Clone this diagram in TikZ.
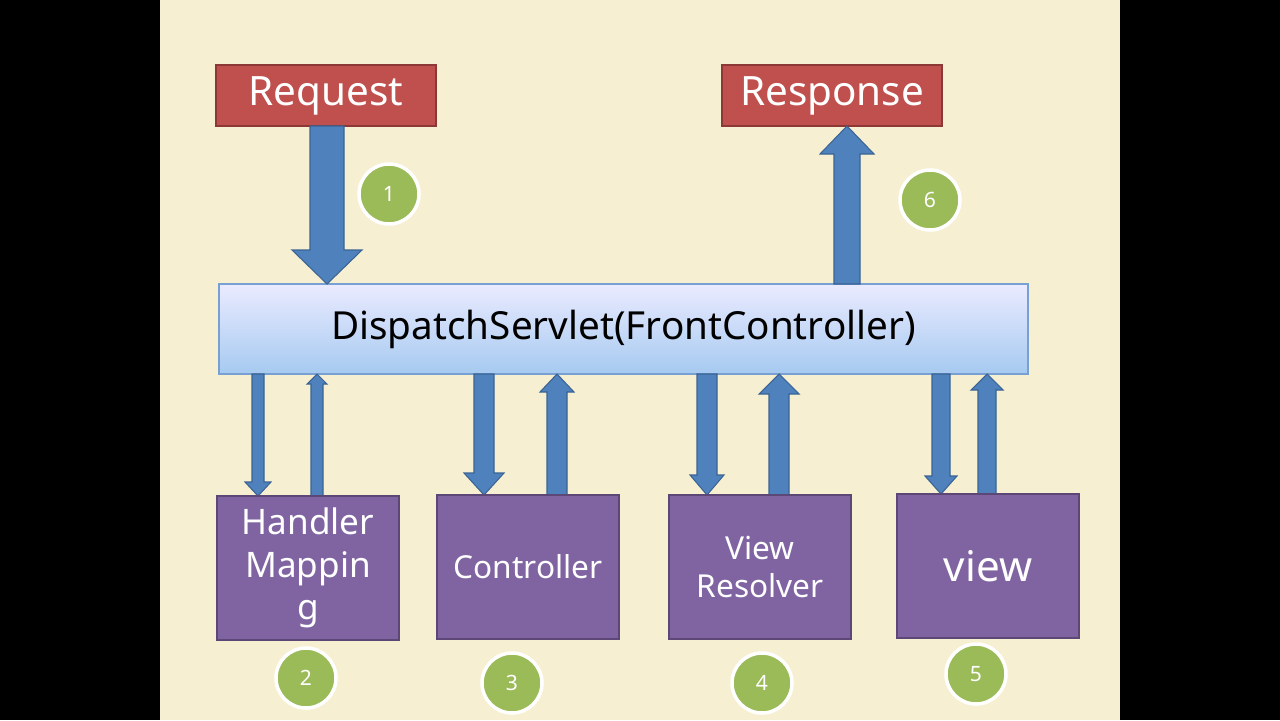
\documentclass[tikz,border=0pt]{standalone}
\usepackage{fontspec}
\setmainfont{Noto Sans}
\definecolor{bg}{HTML}{F7EFD2}
\definecolor{redb}{HTML}{C0504D}
\definecolor{redd}{HTML}{8C3836}
\definecolor{blu}{HTML}{4F81BD}
\definecolor{blud}{HTML}{3A6494}
\definecolor{purp}{HTML}{8064A2}
\definecolor{purpd}{HTML}{5C4776}
\definecolor{grn}{HTML}{9BBB59}
\tikzset{
  redbox/.style={draw=redd,fill=redb,line width=1pt,text=white,font=\fontsize{23}{26}\selectfont},
  purbox/.style={draw=purpd,fill=purp,line width=1pt,text=white,align=center},
  num/.style={circle,fill=grn,draw=white,line width=2pt,minimum size=1.2cm,text=white,font=\fontsize{12}{14}\selectfont},
  arr/.style={fill=blu,draw=blud,line width=0.6pt}
}
% x, ybase, ytip, half shaft, half head, head length
\newcommand\varr[6]{\draw[arr] ({#1-#4},#2) -- ({#1-#4},{#3-#6*sign(#3-#2)}) -- ({#1-#5},{#3-#6*sign(#3-#2)}) -- (#1,#3) -- ({#1+#5},{#3-#6*sign(#3-#2)}) -- ({#1+#4},{#3-#6*sign(#3-#2)}) -- ({#1+#4},#2) -- cycle;}
\begin{document}
\begin{tikzpicture}[x=0.02cm,y=-0.02cm]
\fill[black] (0,0) rectangle (1280,720);
\fill[bg] (160,0) rectangle (1120,720);
\useasboundingbox (0,0) rectangle (1280,720);
\node[redbox,minimum width=4.4cm,minimum height=1.22cm] (req) at (326,95.5) {Request};
\node[redbox,minimum width=4.4cm,minimum height=1.22cm] (resp) at (832,95.5) {Response};
\shade[top color=blue!8,bottom color={rgb,255:red,166;green,202;blue,240}] (219,284) rectangle (1028,374);
\draw[draw={rgb,255:red,120;green,160;blue,210},line width=0.8pt] (219,284) rectangle (1028,374);
\node[font=\fontsize{22}{26}\selectfont] (ds) at (623.5,329) {DispatchServlet(FrontController)};
\varr{327}{126}{284}{17}{35}{34}
\varr{847}{284}{126}{13}{27}{28}
\varr{258}{374}{496}{6}{13}{14}
\varr{317}{496}{374}{6}{10}{10}
\varr{484}{374}{495}{10}{20}{22}
\varr{557}{495}{374}{10}{17}{18}
\varr{707}{374}{495}{10}{17}{20}
\varr{779}{495}{374}{10}{20}{20}
\varr{941}{374}{494}{9}{16}{18}
\varr{987}{494}{374}{9}{16}{16}
\node[purbox,minimum width=3.64cm,minimum height=2.88cm,font=\fontsize{20}{24}\selectfont] (hm) at (308,568) {Handler\\Mappin\\g};
\node[purbox,minimum width=3.64cm,minimum height=2.88cm,font=\fontsize{18}{22}\selectfont] (ct) at (528,567) {Controller};
\node[purbox,minimum width=3.64cm,minimum height=2.88cm,font=\fontsize{18}{22}\selectfont] (vr) at (760,567) {View\\Resolver};
\node[purbox,minimum width=3.64cm,minimum height=2.88cm,font=\fontsize{24}{28}\selectfont] (vw) at (988,566) {view};
\node[num] (n1) at (389,194) {1};
\node[num] (n6) at (930,200) {6};
\node[num] (n2) at (306,678) {2};
\node[num] (n3) at (512,683) {3};
\node[num] (n4) at (762,683) {4};
\node[num] (n5) at (976,674) {5};
\end{tikzpicture}
\end{document}
